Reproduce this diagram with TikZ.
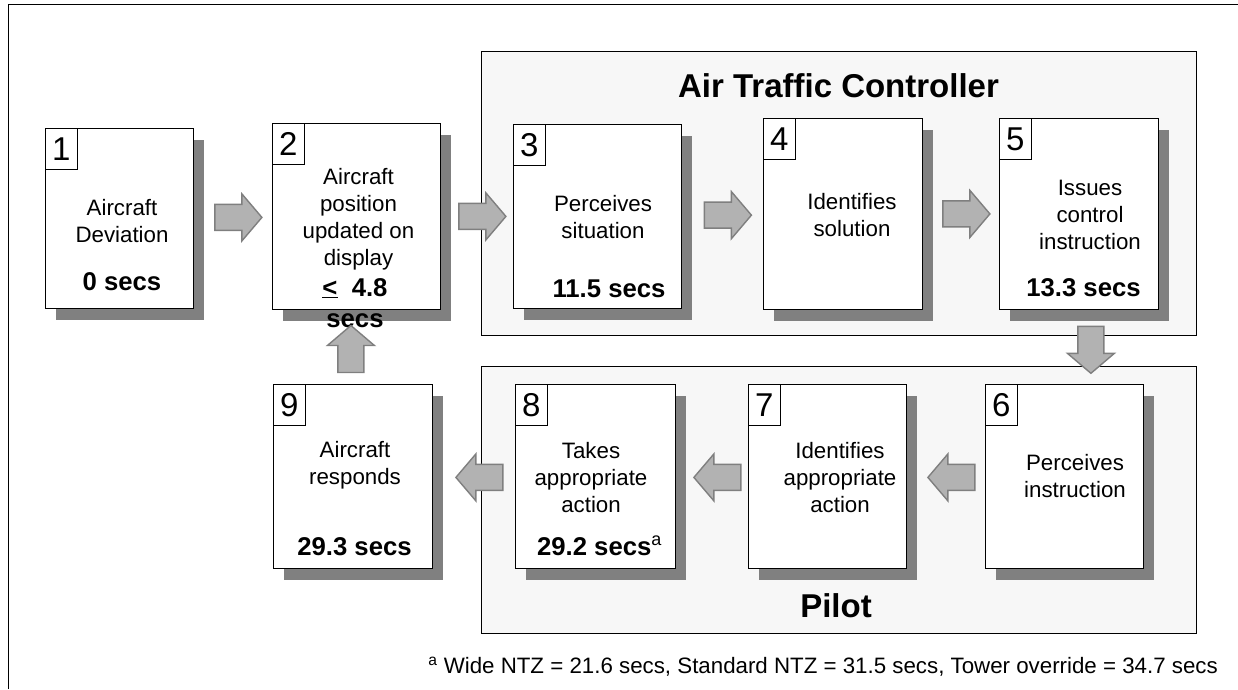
\documentclass[tikz,border=0pt]{standalone}
\usepackage{fontspec}
\setmainfont{Liberation Sans}
\usetikzlibrary{shadows,calc}
\definecolor{shadowgray}{HTML}{808080}
\definecolor{framefill}{HTML}{F7F7F7}
\definecolor{arrowfill}{HTML}{B2B2B2}
\definecolor{arrowline}{HTML}{7F7F7F}
\begin{document}
\begin{tikzpicture}[x=1pt,y=-1pt,
 stepbox/.style={draw=black, line width=0.8pt, fill=white, anchor=north west, inner sep=0pt,
   drop shadow={shadow xshift=11pt, shadow yshift=-12pt, fill=shadowgray, opacity=1}},
 numbox/.style={draw=black, line width=0.8pt, fill=white, anchor=north west, minimum width=32pt,
   minimum height=41pt, inner sep=0pt, font=\fontsize{33}{33}\selectfont},
 lbl/.style={anchor=base, align=center, inner sep=0pt, font=\fontsize{22.3}{27}\selectfont},
 tm/.style={anchor=base, align=center, inner sep=0pt, font=\fontsize{25.7}{31}\selectfont\bfseries},
 groupframe/.style={draw=black, line width=0.9pt, fill=framefill, anchor=north west, inner sep=0pt},
 title/.style={anchor=base, inner sep=0pt, font=\fontsize{33}{40}\selectfont\bfseries},
 arrowsty/.style={fill=arrowfill, draw=arrowline, line width=1.4pt, line join=miter},
 pics/barrow/.style={code={\draw[arrowsty] (-23.5,-13) -- (3.5,-13) -- (3.5,-23.5) -- (23.5,0)
   -- (3.5,23.5) -- (3.5,13) -- (-23.5,13) -- cycle;}}
]
\useasboundingbox (0,0) rectangle (1238,689);
% outer frame (top and left edges)
\coordinate (otl) at (8,4);
\coordinate (obl) at (8,689);
\coordinate (otr) at (1238,4);
\draw[line width=1pt] (obl) -- (otl) -- (otr);

% group frames
\node[groupframe, minimum width=715pt, minimum height=284pt] (atc) at (481,51) {};
\node[groupframe, minimum width=715pt, minimum height=267pt] (pil) at (481,366) {};
\node[title] (atct) at (838.5,97) {Air Traffic Controller};
\node[title] (pilt) at (836,617) {Pilot};

% step boxes
\node[stepbox, minimum width=148pt, minimum height=180pt] (b1) at (45,128) {};
\node[stepbox, minimum width=168pt, minimum height=186pt] (b2) at (272,123) {};
\node[stepbox, minimum width=168pt, minimum height=184pt] (b3) at (513,124) {};
\node[stepbox, minimum width=159pt, minimum height=191pt] (b4) at (763,118) {};
\node[stepbox, minimum width=159pt, minimum height=191pt] (b5) at (999,118) {};
\node[stepbox, minimum width=158pt, minimum height=184pt] (b6) at (985,384) {};
\node[stepbox, minimum width=158pt, minimum height=184pt] (b7) at (748,384) {};
\node[stepbox, minimum width=160pt, minimum height=184pt] (b8) at (515,384) {};
\node[stepbox, minimum width=159pt, minimum height=184pt] (b9) at (273,384) {};

% number boxes
\foreach \i in {1,...,9} {
  \node[numbox] (n\i) at (b\i.north west) {\i};
}

% labels (anchor=base is the baseline of the last line)
\node[lbl] (l1) at (122,242) {Aircraft\\Deviation};
\node[tm]  (t1) at (122,290) {0 secs};
\node[lbl] (l2) at (358.5,265) {Aircraft\\position\\updated on\\display};
\node[tm]  (t2) at (355,327) {\underline{<}\ \ 4.8\\secs};
\node[lbl] (l3) at (603,238) {Perceives\\situation};
\node[tm]  (t3) at (609,297) {11.5 secs};
\node[lbl] (l4) at (852,236) {Identifies\\solution};
\node[lbl] (l5) at (1090,249) {Issues\\control\\instruction};
\node[tm]  (t5) at (1083.5,296) {13.3 secs};
\node[lbl] (l6) at (1075,497) {Perceives\\instruction};
\node[lbl] (l7) at (840,512) {Identifies\\appropriate\\action};
\node[lbl] (l8) at (591,512) {Takes\\appropriate\\action};
\node[tm]  (t8) at (599.5,555) {29.2 secs\textsuperscript{\mdseries a}};
\node[lbl] (l9) at (355,484) {Aircraft\\responds};
\node[tm]  (t9) at (354.5,555) {29.3 secs};

% block arrows between boxes
\pic at ($($(b1.east)+(11,0)$)!0.5!(b2.west)$) {barrow};
\pic at ($($(b2.east)+(11,0)$)!0.5!(b3.west)$) {barrow};
\pic at ($($(b3.east)+(11,0)$)!0.5!(b4.west)$) {barrow};
\pic at ($($(b4.east)+(11,0)$)!0.5!(b5.west)$) {barrow};
\pic[rotate=-90] at ($(b5.south)+(12,40)$) {barrow};
\pic[rotate=180] at ($($(b7.east)+(11,2)$)!0.5!(b6.west)$) {barrow};
\pic[rotate=180] at ($($(b8.east)+(11,2)$)!0.5!(b7.west)$) {barrow};
\pic[rotate=180] at ($($(b9.east)+(11,2)$)!0.5!(b8.west)$) {barrow};
\pic[rotate=90] at ($(b9.north)+(-2,-35)$) {barrow};

% footnote
\node[anchor=base east, inner sep=0pt, font=\fontsize{22.3}{27}\selectfont] (fn) at (1218,673)
  {\textsuperscript{a} Wide NTZ = 21.6 secs, Standard NTZ = 31.5 secs, Tower override = 34.7 secs};
\end{tikzpicture}
\end{document}
